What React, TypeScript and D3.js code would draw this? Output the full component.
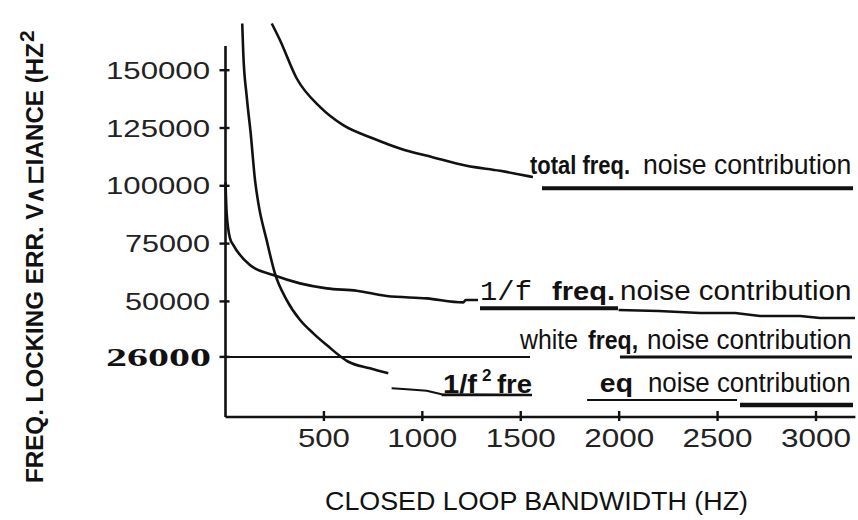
import React from "react";
import * as d3 from "d3";

// closed loop bandwidth (Hz) / locking error variance (Hz^2)
const totalHz = [235, 277, 362, 480, 598, 751, 886, 1056, 1225, 1395, 1538, 1562];
const totalVar = [170190, 162970, 146410, 134140, 126230, 120480, 116150, 112260, 108630, 106470, 104180, 103750];

const flickerHz = [0, 6, 23, 40, 124, 243, 378, 514, 667, 819, 1022, 1208, 1220, 1283];
const flickerVar = [101600, 88060, 77250, 74350, 65710, 61380, 57800, 55640, 54600, 52310, 51310, 49580, 50580, 50580];

const rwHz = [85, 90, 108, 128, 150, 167, 209, 251, 311, 379, 446, 514, 624, 734, 827];
const rwVar = [170190, 157910, 138460, 122640, 102450, 92380, 76510, 62120, 50580, 41930, 36180, 31120, 23900, 21050, 18890];
const rwTailHz = [844, 921, 1022, 1098, 1557];
const rwTailVar = [12410, 11970, 11370, 9810, 9510];

const whiteHz = [0, 1547];
const whiteVar = [26000, 26000];

const flickerTailHz = [1997, 2200, 2411, 2589, 2716, 2919, 3021, 3198];
const flickerTailVar = [46250, 45820, 44960, 44960, 43660, 43660, 42800, 42800];

const yTicks = [150000, 125000, 100000, 75000, 50000, 26000];
const yTickLabels = ["150000", "125000", "100000", "75000", "50000", "26000"];
const xTicks = [500, 1000, 1500, 2000, 2500, 3000];
const xTickLabels = ["500", "1000", "1500", "2000", "2500", "3000"];

const W = 858;
const H = 520;
const INK = "#111";

const x = d3.scaleLinear().domain([0, 3000]).range([225.5, 816]);
const y = d3.scaleLinear().domain([0, 150000]).range([417, 70.2]);

const zip = (a: number[], b: number[]) => a.map((v, i) => [v, b[i]] as [number, number]);

const smooth = d3.line<[number, number]>().x((d) => x(d[0])).y((d) => y(d[1])).curve(d3.curveMonotoneX);
const straight = d3.line<[number, number]>().x((d) => x(d[0])).y((d) => y(d[1]));

// rules under the labels: [fromHz, toHz, variance, width]
const rules: [number, number, number, number][] = [
  [1608, 3188, 98900, 4],
  [1293, 1994, 46990, 4],
  [2004, 3183, 26000, 3],
  [1837, 2599, 7350, 2],
  [2614, 3188, 5190, 4.5],
  [1098, 1557, 9510, 2.5],
];

type Piece = { t: string; x0: number; x1: number; v: number; size: number; bold?: boolean; font?: string };
const pieces: Piece[] = [
  { t: "total freq.", x0: 1547, x1: 2055, v: 105045, size: 26, bold: true },
  { t: "noise  contribution", x0: 2121, x1: 3180, v: 105045, size: 27 },
  { t: "1/f", x0: 1293, x1: 1557, v: 50577, size: 28, font: "Liberation Mono, monospace" },
  { t: "freq.", x0: 1659, x1: 1979, v: 50577, size: 26, bold: true },
  { t: "noise  contribution", x0: 2004, x1: 3180, v: 50577, size: 27 },
  { t: "white", x0: 1496, x1: 1791, v: 29300, size: 27 },
  { t: "freq,", x0: 1842, x1: 2096, v: 29300, size: 26, bold: true },
  { t: "noise  contribution", x0: 2141, x1: 3180, v: 29300, size: 27 },
  { t: "1/f", x0: 1105, x1: 1278, v: 10375, size: 26, bold: true },
  { t: "fre", x0: 1379, x1: 1557, v: 10375, size: 26, bold: true },
  { t: "eq", x0: 1902, x1: 2070, v: 10937, size: 26, bold: true },
  { t: "noise  contribution", x0: 2146, x1: 3176, v: 10937, size: 27 },
];

export default function App() {
  const sans = "Liberation Sans, Arial, sans-serif";
  const y0 = y(0);
  return (
    <svg width={W} height={H} style={{ position: "absolute", left: 0, top: 0, background: "#fff" }}>
      <rect width={W} height={H} fill="#fff" />

      {/* axes */}
      <line x1={x(0)} x2={x(0)} y1={y(160500)} y2={y0} stroke={INK} strokeWidth={2.6} />
      <line x1={x(0)} x2={x(3200)} y1={y0} y2={y0} stroke={INK} strokeWidth={2.6} />
      {yTicks.map((t, i) => (
        <g key={t}>
          <line x1={x(0) - 6} x2={x(0) + 4} y1={y(t)} y2={y(t)} stroke={INK} strokeWidth={2.4} />
          {t === 26000 ? (
            <text x={106} y={y(t) + 9} fontFamily="Liberation Serif, serif" fontWeight="bold" fontSize={26}
              textLength={105} lengthAdjust="spacingAndGlyphs" fill={INK}>{yTickLabels[i]}</text>
          ) : (
            <text x={210 - (yTickLabels[i].length === 6 ? 104 : 85)} y={y(t) + 8.5} fontFamily={sans} fontSize={23}
              textLength={yTickLabels[i].length === 6 ? 104 : 85} lengthAdjust="spacingAndGlyphs" fill="#222">{yTickLabels[i]}</text>
          )}
        </g>
      ))}
      {xTicks.map((t, i) => (
        <g key={t}>
          <line x1={x(t)} x2={x(t)} y1={y0 - 6} y2={y0 + 4} stroke={INK} strokeWidth={2.4} />
          <text x={x(t) - (xTickLabels[i].length === 4 ? 35 : 26)} y={447} fontFamily={sans} fontSize={26}
            textLength={xTickLabels[i].length === 4 ? 70 : 52} lengthAdjust="spacingAndGlyphs" fill="#222">{xTickLabels[i]}</text>
        </g>
      ))}

      {/* axis titles */}
      <text x={325} y={510} fontFamily={sans} fontSize={25} textLength={423} lengthAdjust="spacingAndGlyphs" fill={INK}>
        CLOSED LOOP BANDWIDTH (HZ)
      </text>
      <g transform="translate(43,483) rotate(-90)">
        <text x={0} y={0} fontFamily={sans} fontWeight="bold" fontSize={24} textLength={440} lengthAdjust="spacingAndGlyphs" fill={INK}>
          FREQ. LOCKING ERR. V∧⊏IANCE (HZ
        </text>
        <text x={441} y={-9} fontFamily={sans} fontWeight="bold" fontSize={21} fill={INK}>2</text>
      </g>

      {/* curves */}
      <g fill="none" stroke={INK} strokeWidth={2.6} strokeLinejoin="round">
        <path d={smooth(zip(totalHz, totalVar)) || ""} />
        <path d={smooth(zip(flickerHz, flickerVar)) || ""} />
        <path d={smooth(zip(rwHz, rwVar)) || ""} />
        <path d={straight(zip(rwTailHz, rwTailVar)) || ""} strokeWidth={2} />
        <path d={straight(zip(whiteHz, whiteVar)) || ""} strokeWidth={2} />
        <path d={straight(zip(flickerTailHz, flickerTailVar)) || ""} strokeWidth={2.4} />
      </g>
      {rules.map((r, i) => (
        <line key={i} x1={x(r[0])} x2={x(r[1])} y1={y(r[2])} y2={y(r[2])} stroke={INK} strokeWidth={r[3]} />
      ))}

      {/* labels */}
      {pieces.map((p, i) => (
        <text key={i} x={x(p.x0)} y={y(p.v)} fontFamily={p.font || sans} fontWeight={p.bold ? "bold" : "normal"}
          fontSize={p.size} textLength={x(p.x1) - x(p.x0)} lengthAdjust="spacingAndGlyphs" fill={INK}>{p.t}</text>
      ))}
      <text x={x(1303)} y={y(10375) - 12} fontFamily={sans} fontWeight="bold" fontSize={17} fill={INK}>2</text>
    </svg>
  );
}
